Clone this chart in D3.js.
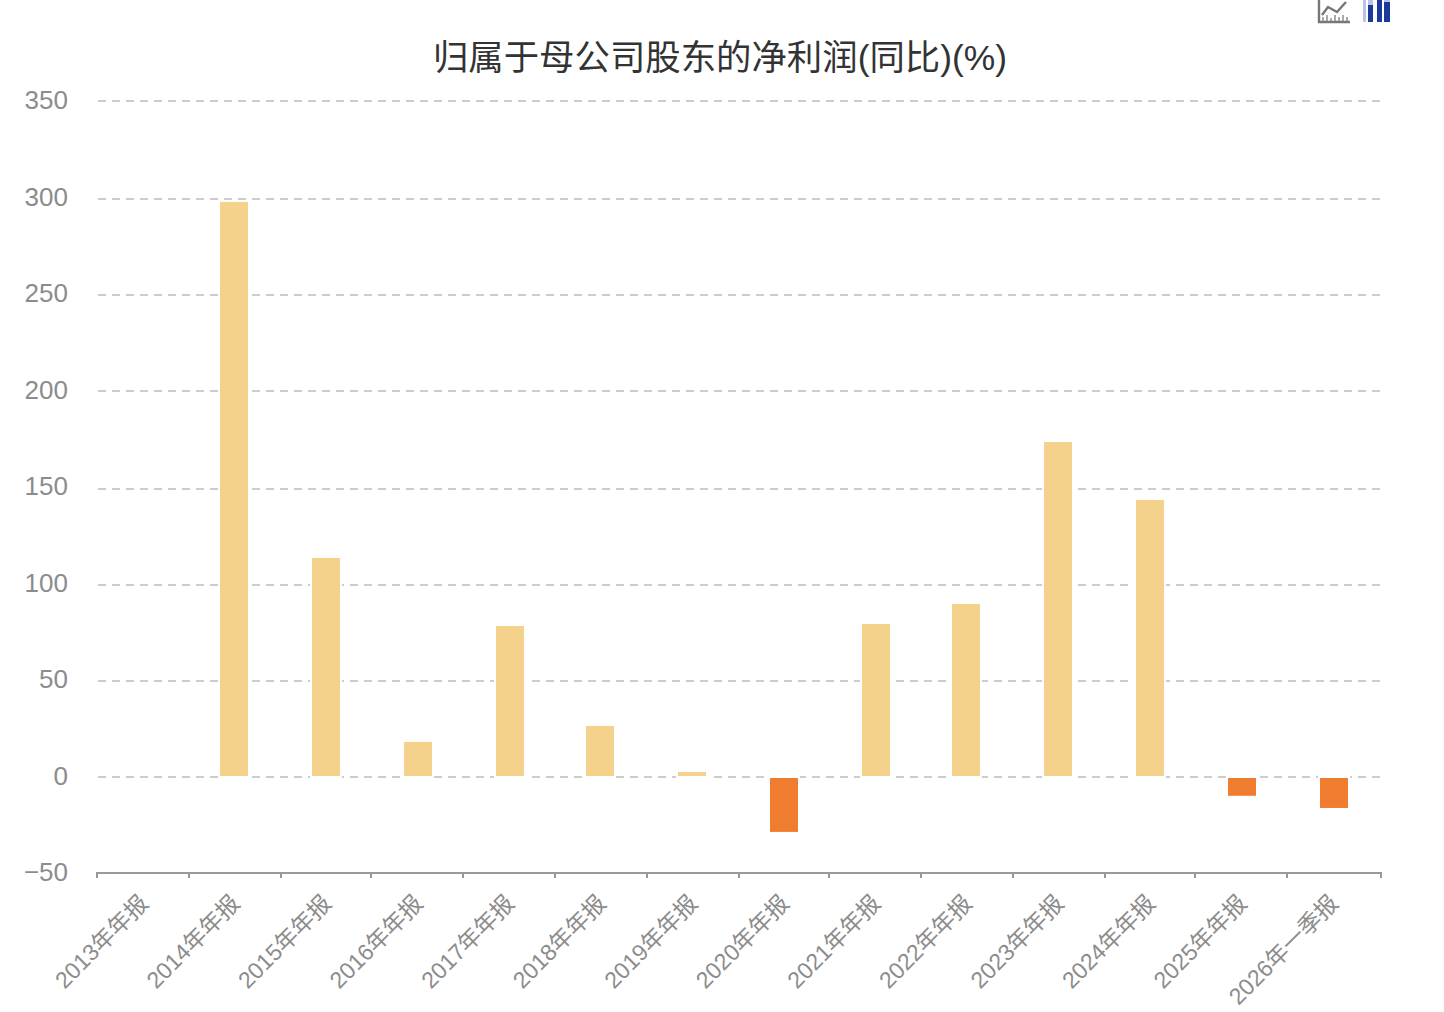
<!DOCTYPE html>
<html>
<head>
<meta charset="utf-8">
<script src="https://cdn.jsdelivr.net/npm/d3@7"></script>
<style>
html,body{margin:0;padding:0;background:#fff;}
svg{display:block;}
text{font-family:"Liberation Sans","Noto Sans CJK SC",sans-serif;}
</style>
</head>
<body>
<svg id="chart" width="1444" height="1012"></svg>
<script>
// Net profit attributable to parent shareholders, year on year (%)
const titleText = "归属于母公司股东的净利润(同比)(%)";
const periods = ["2013年年报","2014年年报","2015年年报","2016年年报","2017年年报","2018年年报","2019年年报","2020年年报","2021年年报","2022年年报","2023年年报","2024年年报","2025年年报","2026年一季报"];
const growth = [null,297.7,113.2,17.9,78,26.2,2.3,-28.7,79,89.4,173.3,143.3,-10,-16.3];
const yTicks = [-50,0,50,100,150,200,250,300,350];

const plot = {left:97.18, right:1378.88, axisEnd:1381, top:101, bottom:873, gridStart:98};
const svg = d3.select("#chart");

const x = d3.scaleBand().domain(periods).range([plot.left, plot.right]);
const y = d3.scaleLinear().domain([-50,350]).range([plot.bottom, plot.top]);
// Grid rows sit on a 2px lattice, so they get their own scale tuned for that snapping
const yGrid = d3.scaleLinear().domain([-50,350]).range([874.5,101.7]);

// Strokes land on odd pixel centres, bars on even pixel edges
const snapOdd = v => 2 * Math.floor(v / 2) + 1;
const snapEven = v => 2 * Math.round(v / 2);

// Horizontal dashed grid
svg.append("g").selectAll("line").data(yTicks.filter(d => d !== -50)).join("line")
  .attr("x1", plot.gridStart).attr("x2", plot.axisEnd)
  .attr("y1", d => snapOdd(yGrid(d))).attr("y2", d => snapOdd(yGrid(d)))
  .attr("stroke", "#cccccc").attr("stroke-width", 2).attr("stroke-dasharray", "8 6");

// Value axis labels
svg.append("g").selectAll("text").data(yTicks).join("text")
  .attr("x", 68).attr("y", d => y(d) - 0.8).attr("dy", "0.35em")
  .attr("text-anchor", "end").attr("font-size", 26).attr("fill", "#8c8c8c")
  .text(d => d < 0 ? "−" + Math.abs(d) : d);

// Bars: gains in pale amber, declines in orange; a white outline breaks the grid around them
const barW = 28;
svg.append("g").selectAll("rect").data(periods.map((p,i) => ({p, v:growth[i]})).filter(d => d.v !== null)).join("rect")
  .attr("x", d => snapEven(x(d.p) + x.bandwidth()/2 - barW/2))
  .attr("width", barW)
  .attr("y", d => d.v >= 0 ? y(d.v) : y(0) + 1.5)
  .attr("height", d => d.v >= 0 ? y(0) - y(d.v) - 0.5 : y(d.v) - y(0) - 1.5)
  .attr("fill", d => d.v >= 0 ? "#f5d28c" : "#f07c30")
  .attr("stroke", "#fff").attr("stroke-width", 4).attr("paint-order", "stroke");

// Category axis with band-edge ticks
const axisG = svg.append("g");
axisG.append("line").attr("x1", 96).attr("x2", plot.axisEnd + 1)
  .attr("y1", plot.bottom).attr("y2", plot.bottom)
  .attr("stroke", "#999").attr("stroke-width", 2);
axisG.selectAll("line.tick").data(periods.concat(["end"])).join("line").attr("class","tick")
  .attr("x1", (d,i) => i < periods.length ? snapOdd(x(d)) : plot.axisEnd)
  .attr("x2", (d,i) => i < periods.length ? snapOdd(x(d)) : plot.axisEnd)
  .attr("y1", plot.bottom).attr("y2", plot.bottom + 5)
  .attr("stroke", "#999").attr("stroke-width", 2);

axisG.selectAll("text").data(periods).join("text")
  .attr("transform", d => `translate(${x(d)+x.bandwidth()/2+1},${plot.bottom+26}) rotate(-45)`)
  .attr("text-anchor", "end").attr("dy", "0.35em")
  .attr("font-size", 23).attr("fill", "#8c8c8c")
  .text(d => d);

// Title
svg.append("text").attr("x", 720).attr("y", 70)
  .attr("text-anchor", "middle").attr("font-size", 35.4).attr("fill", "#333")
  .text(titleText);

// Chart-type switch icons, top right
const lineIcon = svg.append("g").attr("fill","none");
lineIcon.append("path").attr("d","M1323 22V17M1327 22V15M1331 22V18M1335 22V15M1339 22V17M1343 22V15M1347 22V17")
  .attr("stroke-width",2).attr("stroke","#aaa");
lineIcon.append("path").attr("d","M1319 0V22H1350").attr("stroke-width",2.4).attr("stroke","#777");
lineIcon.append("path").attr("d","M1322 15L1328 7L1337 12L1346 2").attr("stroke-width",2.4).attr("stroke","#777");
const barIcon = svg.append("g");
barIcon.append("rect").attr("x",1363).attr("y",0).attr("width",27).attr("height",22).attr("fill","#b9c4e6");
[[1368,5,5],[1377,0,5],[1384,2,6]].forEach(([bx,by,bw]) =>
  barIcon.append("rect").attr("x",bx).attr("y",by).attr("width",bw).attr("height",22-by).attr("fill","#1a3a9c"));
[[1366,0,2],[1373,0,4],[1382,0,2]].forEach(([bx,by,bw]) =>
  barIcon.append("rect").attr("x",bx).attr("y",by).attr("width",bw).attr("height",22-by).attr("fill","#fff"));
</script>
</body>
</html>
